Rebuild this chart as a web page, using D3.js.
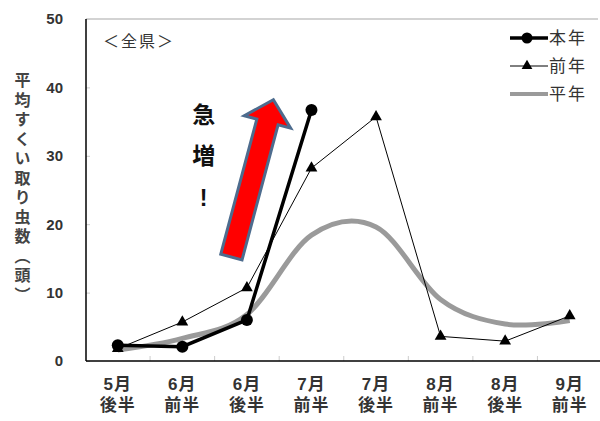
<!DOCTYPE html>
<html>
<head>
<meta charset="utf-8">
<script src="https://cdn.jsdelivr.net/npm/d3@7"></script>
<style>
  body { margin: 0; background: #fff; }
  svg { display: block; }
  text { font-family: "Liberation Sans", "Noto Sans CJK JP", sans-serif; }
</style>
</head>
<body>
<svg id="chart" width="600" height="421"></svg>
<script>
// data
const months = ["5月", "6月", "6月", "7月", "7月", "8月", "8月", "9月"];
const halves = ["後半", "前半", "後半", "前半", "後半", "前半", "後半", "前半"];
const categories = months.map((m, i) => m + halves[i]);

const honen  = [2.3, 2.1, 6.0, 36.7, null, null, null, null];   // 本年
const zennen = [1.8, 5.7, 10.7, 28.2, 35.7, 3.6, 2.9, 6.6];     // 前年
const heinen = [1.6, 3.3, 6.8, 18.4, 19.6, 9.0, 5.4, 5.9];      // 平年
const yTicks = [0, 10, 20, 30, 40, 50];

const svg = d3.select("#chart");

// scales
const x = d3.scaleBand().domain(categories).range([85.5, 602]);
const cx = c => x(c) + x.bandwidth() / 2;
const xi = d3.scaleLinear().domain([0, 7]).range([cx(categories[0]), cx(categories[7])]);
const y = d3.scaleLinear().domain([0, 50]).range([361, 19]);

// plot frame
svg.append("line")
  .attr("x1", 86).attr("x2", 598).attr("y1", y(50)).attr("y2", y(50))
  .attr("stroke", "#c4c4c4").attr("stroke-width", 1.5);

// inner y ticks
svg.append("g")
  .attr("transform", "translate(86,0)")
  .call(d3.axisRight(y).tickValues(yTicks).tickSize(4).tickFormat(""))
  .call(g => g.select(".domain").remove())
  .selectAll("line").attr("stroke", "#ccc");

// inner x ticks between categories
svg.append("g")
  .selectAll("line")
  .data(categories.slice(1))
  .join("line")
  .attr("x1", d => x(d)).attr("x2", d => x(d))
  .attr("y1", y(0)).attr("y2", y(0) - 5)
  .attr("stroke", "#ccc");

// y labels
svg.append("g")
  .attr("transform", "translate(86,0)")
  .call(d3.axisLeft(y).tickValues(yTicks).tickSize(0).tickPadding(23))
  .call(g => g.select(".domain").remove())
  .selectAll("text")
  .attr("font-size", 15).attr("font-weight", "bold").attr("fill", "#333")
  .attr("font-family", "Liberation Sans, sans-serif");

// x labels (two lines)
const xg = svg.append("g")
  .attr("transform", `translate(0,${y(0)})`)
  .call(d3.axisBottom(x).tickSize(0).tickFormat(""));
xg.select(".domain").remove();
xg.selectAll(".tick").each(function(d, i) {
  const t = d3.select(this).append("text")
    .attr("text-anchor", "middle").attr("fill", "#333")
    .attr("font-size", 17).attr("font-weight", "bold").attr("letter-spacing", 1);
  t.append("tspan").attr("x", 0).attr("y", 29).text(months[i]);
  t.append("tspan").attr("x", 0).attr("y", 50).text(halves[i]);
});

// axes lines
svg.append("line")
  .attr("x1", 86).attr("x2", 86).attr("y1", y(50)).attr("y2", y(0))
  .attr("stroke", "#000").attr("stroke-width", 1.5);
svg.append("line")
  .attr("x1", 86).attr("x2", 600).attr("y1", y(0)).attr("y2", y(0))
  .attr("stroke", "#000").attr("stroke-width", 1.5);

// y title (vertical)
svg.append("text")
  .attr("x", 21).attr("y", 72)
  .attr("font-family", "Noto Sans CJK JP")
  .attr("font-size", 16).attr("font-weight", "bold").attr("fill", "#444")
  .style("writing-mode", "vertical-rl")
  .attr("letter-spacing", 3.5)
  .text("平均すくい取り虫数（頭）");

// <全県>
svg.append("text")
  .attr("x", 103).attr("y", 47)
  .attr("font-family", "Noto Sans CJK JP")
  .attr("font-size", 16).attr("fill", "#333").attr("letter-spacing", 2)
  .text("＜全県＞");

// arrow annotation (急増)
const tail = [xi(1.76), y(15.2)], tip = [xi(2.41), y(38.2)];
const len = Math.hypot(tip[0] - tail[0], tip[1] - tail[1]);
const ang = Math.atan2(tip[1] - tail[1], tip[0] - tail[0]) * 180 / Math.PI + 90;
const sw = 11, hw = 24, hl = 23;
const arrowPts = [[-sw, 0], [-sw, -len + hl], [-hw, -len + hl], [0, -len], [hw, -len + hl], [sw, -len + hl], [sw, 0]];
svg.append("path")
  .attr("transform", `translate(${tail[0]},${tail[1]}) rotate(${ang})`)
  .attr("d", d3.line()(arrowPts) + "Z")
  .attr("fill", "#ff0000").attr("stroke", "#4d6c8e").attr("stroke-width", 3)
  .attr("stroke-linejoin", "miter");

const note = svg.append("text")
  .attr("text-anchor", "middle").attr("font-family", "Noto Sans CJK JP")
  .attr("font-size", 23).attr("font-weight", "bold").attr("fill", "#111");
["急", "増", "!"].forEach((c, i) => {
  note.append("tspan").attr("x", xi(1.33)).attr("y", y(36) + 8 + i * 41.5).text(c);
});

// series
const line = d3.line()
  .defined(d => d != null)
  .x((d, i) => cx(categories[i]))
  .y(d => y(d));

svg.append("path")
  .attr("d", line.curve(d3.curveCardinal.tension(0))(heinen))
  .attr("fill", "none").attr("stroke", "#9a9a9a").attr("stroke-width", 5);

svg.append("path")
  .attr("d", line.curve(d3.curveLinear)(zennen))
  .attr("fill", "none").attr("stroke", "#000").attr("stroke-width", 1);
svg.append("g").selectAll("path")
  .data(zennen.map((v, i) => [v, i]))
  .join("path")
  .attr("transform", d => `translate(${cx(categories[d[1]])},${y(d[0])})`)
  .attr("d", d3.symbol(d3.symbolTriangle, 60))
  .attr("fill", "#000");

svg.append("path")
  .attr("d", line.curve(d3.curveLinear)(honen))
  .attr("fill", "none").attr("stroke", "#000").attr("stroke-width", 3.5);
svg.append("g").selectAll("circle")
  .data(honen.map((v, i) => [v, i]).filter(d => d[0] != null))
  .join("circle")
  .attr("cx", d => cx(categories[d[1]])).attr("cy", d => y(d[0]))
  .attr("r", 6).attr("fill", "#000");

// legend
const legend = [
  { name: "本年", width: 3.5, color: "#000", marker: "circle" },
  { name: "前年", width: 1, color: "#000", marker: "triangle" },
  { name: "平年", width: 4, color: "#9a9a9a", marker: null }
];
const lg = svg.append("g").selectAll("g")
  .data(legend).join("g")
  .attr("transform", (d, i) => `translate(510,${38 + i * 28})`);
lg.append("line").attr("x1", 0).attr("x2", 38)
  .attr("stroke", d => d.color).attr("stroke-width", d => d.width);
lg.filter(d => d.marker === "circle").append("circle").attr("cx", 17).attr("r", 5.5).attr("fill", "#000");
lg.filter(d => d.marker === "triangle").append("path")
  .attr("transform", "translate(17,0)").attr("d", d3.symbol(d3.symbolTriangle, 50)).attr("fill", "#000");
lg.append("text").attr("x", 39).attr("y", 6)
  .attr("font-family", "Noto Sans CJK JP").attr("font-size", 17)
  .attr("letter-spacing", 2).attr("fill", "#333")
  .text(d => d.name);
</script>
</body>
</html>
